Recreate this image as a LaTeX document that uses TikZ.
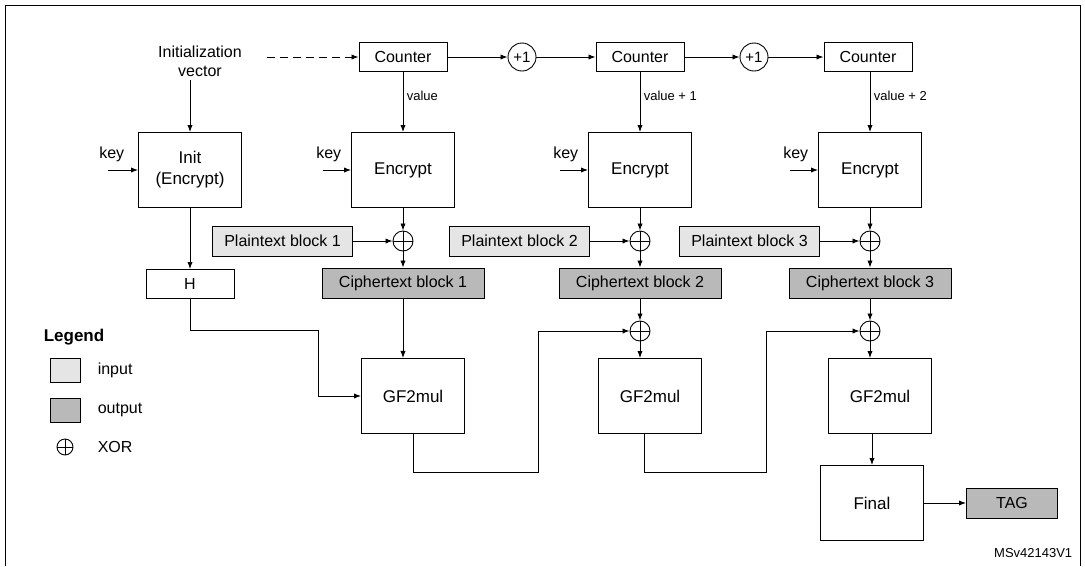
\documentclass[tikz,border=0pt]{standalone}
\usepackage{fontspec}
\setmainfont{Liberation Sans}
\usetikzlibrary{arrows.meta,positioning,calc}
\tikzset{
    every picture/.style = {
        > = Latex,
        line width = 0.9pt
    },
    blk/.style = {
        draw, minimum width = 103pt, minimum height = 75pt,
        align = center, font = \fontsize{17}{21}\selectfont
    },
    ctr/.style = {
        draw, minimum width = 88pt, minimum height = 29pt,
        font = \fontsize{16}{18}\selectfont
    },
    inbox/.style = {
        draw, fill = gray!20, minimum height = 30pt, minimum width = 140pt,
        inner sep = 2pt, font = \fontsize{16}{18}\selectfont
    },
    outbox/.style = {
        draw, fill = gray!55, minimum height = 30pt, minimum width = 162pt,
        inner sep = 2pt, font = \fontsize{16}{18}\selectfont
    },
    xorc/.style = {
        draw, circle, minimum size = 20pt, inner sep = 0pt,
        path picture = {
            \draw (path picture bounding box.north) -- (path picture bounding box.south);
            \draw (path picture bounding box.west) -- (path picture bounding box.east);
        }
    },
    inc/.style = {
        draw, circle, minimum size = 28pt, inner sep = 0pt,
        font = \fontsize{15}{17}\selectfont
    },
    lbl/.style = {font = \fontsize{16}{19}\selectfont},
    small/.style = {font = \fontsize{13}{15}\selectfont}
}
\begin{document}
\begin{tikzpicture}[x=1pt,y=-1pt]
    \useasboundingbox (0,0) rectangle (1085,566);
    \draw (5,566) -- (5,5) -- (1080,5) -- (1080,566);

    % init column
    \node[lbl, align=center] (iv) at (200,61) {Initialization\\vector};
    \node[blk] (init) at (190,170) {Init\\(Encrypt)};
    \node[ctr] (h) at (190,284) {H};
    \node[lbl, anchor=south east] (k0) at (128,166) {key};
    \coordinate (k0s) at (108,170);
    \draw[->] (k0s) -- (init.west);
    \draw[->] (iv.south -| init) -- (init.north);
    \draw[->] (init.south) -- (h.north);

    % counters
    \node[ctr] (c1) at (403,57) {Counter};
    \node[inc] (p1) at (522,57) {+1};
    \node[ctr] (c2) at (640,57) {Counter};
    \node[inc] (p2) at (754,57) {+1};
    \node[ctr] (c3) at (868,57) {Counter};
    \coordinate (ivend) at (267,57);
    \draw[->, dash pattern=on 8pt off 5pt] (ivend) -- (c1.west);
    \draw[->] (c1) -- (p1);
    \draw[->] (p1) -- (c2);
    \draw[->] (c2) -- (p2);
    \draw[->] (p2) -- (c3);

    % encrypt columns
    \foreach \i/\x/\v in {1/403/value, 2/640/value + 1, 3/870/value + 2} {
        \node[blk] (e\i) at (\x,170) {Encrypt};
        \node[xorc] (x\i) at (\x,241) {};
        \node[lbl, anchor=south east] (k\i) at (\x-58,166) {key};
        \coordinate (k\i s) at (\x-80,170);
        \draw[->] (k\i s) -- (e\i.west);
        \draw[->] (c\i.south -| e\i) -- node[small, right, pos=0.4] {\v} (e\i.north);
        \draw[->] (e\i.south) -- (x\i.north);
        \node[inbox, anchor=east] (pt\i) at (\x-50,241) {Plaintext block \i};
        \draw[->] (pt\i.east) -- (x\i.west);
        \node[outbox] (ct\i) at (\x,283) {Ciphertext block \i};
        \draw[->] (x\i.south) -- (ct\i.north);
        \node[blk] (g\i) at (\x+10,396) {GF2mul};
    }
    \node[xorc] (y2) at (640,331) {};
    \node[xorc] (y3) at (870,331) {};

    % hash chain
    \draw[->] (h.south) |- (318,330) |- (g1.west);
    \draw[->] (ct1.south -| 403,0) -- (403,358);
    \draw[->] (ct2.south) -- (y2.north);
    \draw[->] (ct3.south) -- (y3.north);
    \draw[->] (y2.south) -- (y2.south |- g2.north);
    \draw[->] (y3.south) -- (y3.south |- g3.north);
    \draw[->] (g1.south -| 413,0) |- (538,472) |- (y2.west);
    \draw[->] (g2.south -| 644,0) |- (766,472) |- (y3.west);

    \node[blk] (fin) at (872,503) {Final};
    \node[outbox, minimum width=91pt] (tag) at (1012,503) {TAG};
    \draw[->] (g3.south -| fin) -- (fin.north);
    \draw[->] (fin.east) -- (tag.west);

    % legend
    \node[anchor=west, font=\fontsize{17}{19}\selectfont\bfseries] (leg) at (40,337) {Legend};
    \node[draw, fill=gray!20, minimum width=30pt, minimum height=24pt] (li) at (65,370) {};
    \node[lbl, anchor=west] (lit) at (94,370) {input};
    \node[draw, fill=gray!55, minimum width=30pt, minimum height=24pt] (lo) at (65,410) {};
    \node[lbl, anchor=west] (lot) at (94,410) {output};
    \node[xorc, minimum size=16pt] (lx) at (65,447) {};
    \node[lbl, anchor=west] (lxt) at (94,447) {XOR};

    \node[small, anchor=east] (ref) at (1076,553) {MSv42143V1};
\end{tikzpicture}
\end{document}
